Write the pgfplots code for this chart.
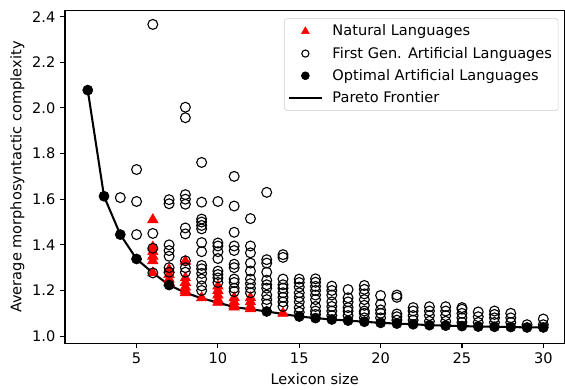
\documentclass[border=0pt]{standalone}
\usepackage{fontspec}
\setmainfont{DejaVu Sans}
\usepackage{pgfplots}
\pgfplotsset{compat=1.18}
\begin{document}
\begin{tikzpicture}
\begin{axis}[
  scale only axis,
  width=363.6pt, height=242.2pt,
  xmin=0.6, xmax=31.3, ymin=0.968, ymax=2.426,
  xtick={5,10,15,20,25,30},
  ytick={1.0,1.2,1.4,1.6,1.8,2.0,2.2,2.4},
  tick align=outside, tick pos=left,
  major tick length=3.5pt,
  every tick/.style={black, line width=0.8pt},
  axis line style={line width=0.8pt},
  /pgf/number format/assume math mode=true,
  yticklabel style={/pgf/number format/fixed, /pgf/number format/fixed zerofill, /pgf/number format/precision=1},
  tick label style={font=\fontsize{10.6}{12.7}\selectfont},
  label style={font=\fontsize{10.6}{12.7}\selectfont},
  xlabel={Lexicon size},
  ylabel={Average morphosyntactic complexity},
  xlabel style={at={(axis description cs:0.5,-0.108)}, anchor=center},
  ylabel style={at={(axis description cs:-0.0955,0.5)}, anchor=center},
  legend style={at={(0.988,0.977)}, anchor=north east, draw=black!20, rounded corners=2pt,
    font=\fontsize{10.6}{12.7}\selectfont, row sep=2.6pt, inner sep=2.5pt},
  legend cell align=left,
  legend image code/.code={\draw[mark repeat=2,mark phase=2,#1] plot coordinates {(0pt,0pt) (12pt,0pt) (24pt,0pt)};\path (29pt,0pt);},
]
% Natural languages
\addplot[only marks, mark=triangle*, mark size=4.4pt, color=red, fill=red,
  legend image post style={mark size=3.3pt}] coordinates {
(6,1.51) (6,1.39) (6,1.37) (6,1.35) (6,1.33) (6,1.277)
(7,1.292) (7,1.27) (7,1.25) (7,1.235)
(8,1.328) (8,1.255) (8,1.235) (8,1.215) (8,1.20) (8,1.19)
(9,1.168)
(10,1.219) (10,1.20) (10,1.18) (10,1.16) (10,1.148)
(11,1.168) (11,1.15) (11,1.135) (11,1.127)
(12,1.168) (12,1.15) (12,1.13) (12,1.12)
(14,1.10)
};
\addlegendentry{Natural Languages}
% First generation artificial languages
\addplot[only marks, mark=o, mark size=3.6pt, color=black, line width=0.8pt,
  legend image post style={mark size=2.6pt}] coordinates {
(4,1.607)
(5,1.73) (5,1.59) (5,1.445)
(6,2.366) (6,1.45) (6,1.385) (6,1.277)
(7,1.598) (7,1.58) (7,1.40) (7,1.375) (7,1.35) (7,1.30) (7,1.28)
(8,2.003) (8,1.957) (8,1.62) (8,1.60) (8,1.578) (8,1.474) (8,1.448) (8,1.33) (8,1.30) (8,1.28)
(9,1.761) (9,1.587) (9,1.513) (9,1.50) (9,1.485) (9,1.47) (9,1.41) (9,1.37) (9,1.31) (9,1.295) (9,1.275) (9,1.25) (9,1.22) (9,1.20)
(10,1.59) (10,1.408) (10,1.395) (10,1.37) (10,1.34) (10,1.285) (10,1.27) (10,1.255) (10,1.235)
(11,1.70) (11,1.57) (11,1.455) (11,1.395) (11,1.375) (11,1.315) (11,1.30) (11,1.25) (11,1.235) (11,1.21) (11,1.195)
(12,1.515) (12,1.395) (12,1.365) (12,1.32) (12,1.285) (12,1.25) (12,1.23) (12,1.21) (12,1.19)
(13,1.63) (13,1.335) (13,1.32) (13,1.28) (13,1.245) (13,1.225) (13,1.21) (13,1.18) (13,1.16) (13,1.14)
(14,1.357) (14,1.345) (14,1.25) (14,1.225) (14,1.21) (14,1.19) (14,1.17) (14,1.15) (14,1.13)
(15,1.25) (15,1.235) (15,1.215) (15,1.19) (15,1.17) (15,1.15) (15,1.125) (15,1.105)
(16,1.251) (16,1.236) (16,1.218) (16,1.20) (16,1.18) (16,1.16) (16,1.13) (16,1.11) (16,1.095)
(17,1.219) (17,1.20) (17,1.18) (17,1.15) (17,1.13) (17,1.11) (17,1.09)
(18,1.204) (18,1.168) (18,1.15) (18,1.125) (18,1.11) (18,1.09)
(19,1.222) (19,1.205) (19,1.185) (19,1.16) (19,1.135) (19,1.11) (19,1.10) (19,1.08)
(20,1.178) (20,1.14) (20,1.115) (20,1.10) (20,1.08)
(21,1.18) (21,1.17) (21,1.097) (21,1.085) (21,1.07)
(22,1.125) (22,1.11) (22,1.09) (22,1.07)
(23,1.129) (23,1.11) (23,1.09) (23,1.065)
(24,1.129) (24,1.11) (24,1.09) (24,1.065)
(25,1.125) (25,1.118) (25,1.10) (25,1.08) (25,1.06)
(26,1.106) (26,1.085) (26,1.06)
(27,1.11) (27,1.095) (27,1.08) (27,1.06)
(28,1.10) (28,1.08) (28,1.06)
(29,1.05)
(30,1.075) (30,1.05)
};
\addlegendentry{First Gen. Artificial Languages}
% Optimal artificial languages
\addplot[only marks, mark=*, mark size=3.7pt, color=black,
  legend image post style={mark size=2.9pt}] coordinates {
(2,2.078) (3,1.613) (4,1.445) (5,1.338) (7,1.224) (13,1.108)
(15,1.086) (16,1.079) (17,1.073) (18,1.068) (19,1.063) (20,1.058) (21,1.055) (22,1.052)
(23,1.048) (24,1.046) (25,1.044) (26,1.042) (27,1.041) (28,1.040) (29,1.038) (30,1.038)
};
\addlegendentry{Optimal Artificial Languages}
% Pareto frontier
\addplot[black, line width=1.5pt, no marks] coordinates {
(2,2.078) (3,1.613) (4,1.445) (5,1.338) (6,1.277) (7,1.224) (8,1.19) (9,1.166) (10,1.147)
(11,1.127) (12,1.118) (13,1.108) (14,1.097) (15,1.086) (16,1.079) (17,1.073) (18,1.068)
(19,1.063) (20,1.058) (21,1.055) (22,1.052) (23,1.048) (24,1.046) (25,1.044) (26,1.042)
(27,1.041) (28,1.040) (29,1.038) (30,1.038)
};
\addlegendentry{Pareto Frontier}
\end{axis}
\path ([yshift=7.8pt]current axis.north west);
\path ([xshift=-47.3pt,yshift=-32pt]current axis.south west);
\end{tikzpicture}
\end{document}
